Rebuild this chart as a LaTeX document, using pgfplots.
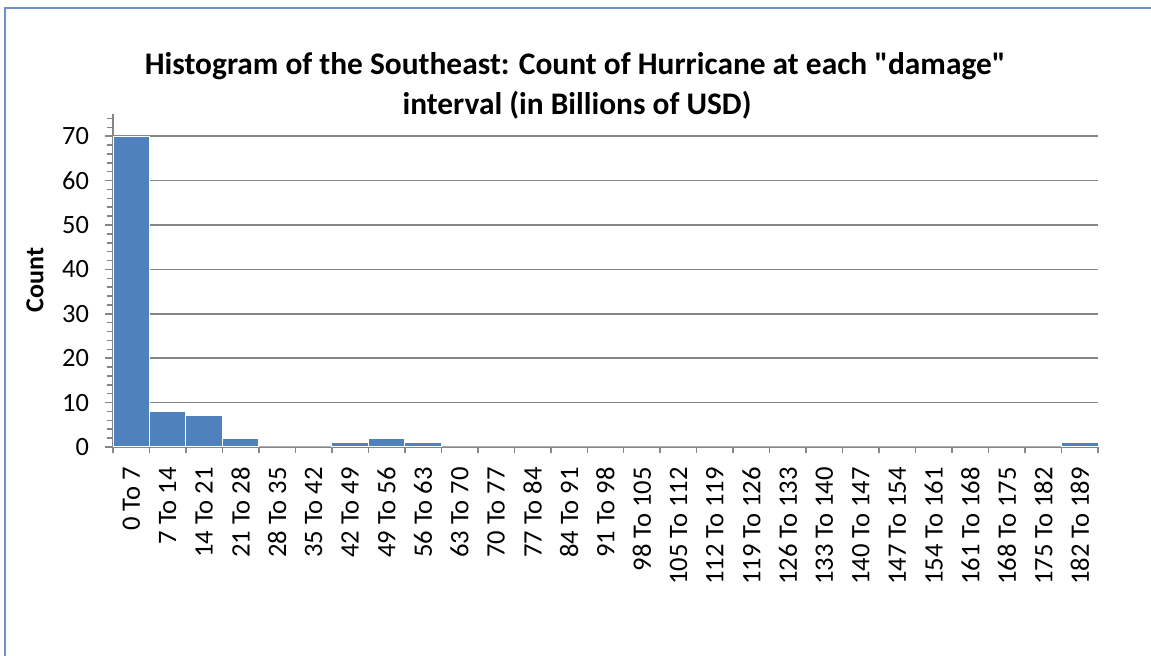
\documentclass[border=0pt]{standalone}
\usepackage{pgfplots}
\pgfplotsset{compat=1.18}
\usepackage{fontspec}
\setmainfont{Carlito}
\definecolor{barblue}{RGB}{79,129,189}
\definecolor{axisgray}{RGB}{134,134,134}
\definecolor{framecol}{RGB}{110,146,200}

% Hurricane counts per damage interval (billions of USD)
\pgfplotstableread{
idx count
0  70
1  8
2  7
3  2
4  0
5  0
6  1
7  2
8  1
9  0
10 0
11 0
12 0
13 0
14 0
15 0
16 0
17 0
18 0
19 0
20 0
21 0
22 0
23 0
24 0
25 0
26 1
}\damagedata

\begin{document}
\begin{tikzpicture}
\fill[white] (0,0) rectangle (575.5pt,328pt);
\useasboundingbox (0,0) rectangle (575.5pt,328pt);
\draw[framecol, line width=0.8pt] (2.6pt,0) -- (2.6pt,324pt) -- (575.5pt,324pt);

% two-line title
\node[anchor=base, font=\bfseries\fontsize{15.7}{18}\selectfont]
  at (287.6pt,290.5pt) {Histogram of the Southeast: Count of Hurricane at each \textquotedbl damage\textquotedbl};
\node[anchor=base, font=\bfseries\fontsize{15.7}{18}\selectfont]
  at (288.5pt,270.5pt) {interval (in Billions of USD)};

\node[rotate=90, font=\bfseries\fontsize{13}{15}\selectfont] at (17.5pt,188pt) {Count};

\begin{axis}[
  at={(56.5pt,104.5pt)}, anchor=south west,
  width=492.5pt, height=166.5pt, scale only axis,
  xmin=-0.5, xmax=26.5, ymin=0, ymax=75,
  axis x line*=bottom, axis y line*=left,
  axis line style={axisgray, line width=0.75pt},
  ytick={0,10,...,70},
  minor ytick={2,4,...,74},
  ymajorgrids,
  major grid style={axisgray, line width=0.75pt},
  tick align=outside,
  major tick length=4pt, minor tick length=3.2pt,
  tick style={axisgray, line width=0.75pt},
  major x tick style={draw=none},
  xtick={0,...,26},
  minor xtick={-0.5,0.5,...,26.5},
  xticklabels={0 To 7,7 To 14,14 To 21,21 To 28,28 To 35,35 To 42,42 To 49,49 To 56,56 To 63,63 To 70,70 To 77,77 To 84,84 To 91,91 To 98,98 To 105,105 To 112,112 To 119,119 To 126,126 To 133,133 To 140,140 To 147,147 To 154,154 To 161,161 To 168,168 To 175,175 To 182,182 To 189},
  x tick label style={rotate=90, anchor=east, font=\fontsize{13.3}{14}\selectfont},
  y tick label style={font=\fontsize{13.2}{14}\selectfont, xshift=-4.5pt},
  /pgf/number format/assume math mode=true,
  xticklabel shift=2.5pt,
]
\addplot[ybar, bar width=1, fill=barblue, draw=white, line width=0.5pt] table[x=idx, y=count] {\damagedata};
\end{axis}
\end{tikzpicture}
\end{document}
